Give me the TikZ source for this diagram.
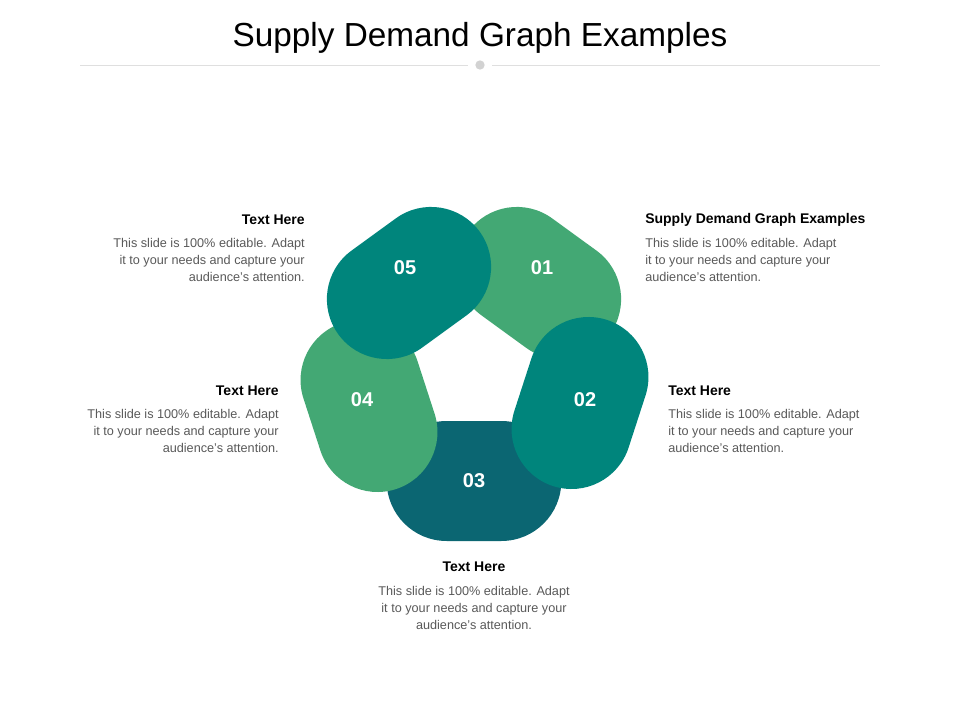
\documentclass[tikz,border=0pt]{standalone}
\usepackage{fontspec}
\setmainfont{Liberation Sans}
\begin{document}
\begin{tikzpicture}[x=0.75pt,y=-0.75pt]
\definecolor{cgreen}{HTML}{43A874}
\definecolor{cteal}{HTML}{00857C}
\definecolor{cdark}{HTML}{0B6672}
\definecolor{cgray}{HTML}{595959}
\tikzset{
 pill/.style={fill=#1,draw=none,minimum width=131pt,minimum height=90pt,rounded corners=45pt,inner sep=0pt},
 num/.style={text=white,font=\bfseries\fontsize{15}{18}\selectfont},
 head/.style={font=\bfseries\fontsize{10.5}{13}\selectfont,text=black,inner sep=0pt},
 body/.style={font=\fontsize{9.5}{12.8}\selectfont,text=cgray,inner sep=0pt},
}
\useasboundingbox (0,0) rectangle (960,720);
\node[font=\fontsize{25}{30}\selectfont] (title) at (480,38) {Supply Demand Graph Examples};
\draw[gray!25,line width=0.6pt] (80,65) -- (468,65);
\draw[gray!25,line width=0.6pt] (492,65) -- (880,65);
\node[circle,fill=gray!35,minimum size=7pt,inner sep=0pt] (dot) at (480,65) {};
% pills
\node[pill=cdark,rotate=0] (p3) at (474,481) {};
\node[pill=cgreen,rotate=144] (p1) at (539,283) {};
\node[pill=cgreen,rotate=108] (p4) at (369,406) {};
\node[pill=cteal,rotate=72] (p2) at (580,403) {};
\node[pill=cteal,rotate=36] (p5) at (409,283) {};
\node[num] at (542,268) {01};
\node[num] at (585,400) {02};
\node[num] at (474,481) {03};
\node[num] at (362,400) {04};
\node[num] at (405,268) {05};
% texts
\node[head,anchor=west] (h1) at (645,220) {Supply Demand Graph Examples};
\node[body,anchor=north west,align=left] (b1) at (645,238) {This slide is 100\% editable. Adapt\\it to your needs and capture your\\audience's attention.};
\node[head,anchor=west] (h2) at (668,391) {Text Here};
\node[body,anchor=north west,align=left] (b2) at (668,409) {This slide is 100\% editable. Adapt\\it to your needs and capture your\\audience's attention.};
\node[head,anchor=east] (h5) at (305,220) {Text Here};
\node[body,anchor=north east,align=right] (b5) at (305,238) {This slide is 100\% editable. Adapt\\it to your needs and capture your\\audience's attention.};
\node[head,anchor=east] (h4) at (279,391) {Text Here};
\node[body,anchor=north east,align=right] (b4) at (279,409) {This slide is 100\% editable. Adapt\\it to your needs and capture your\\audience's attention.};
\node[head] (h3) at (474,567) {Text Here};
\node[body,anchor=north,align=center] (b3) at (474,586) {This slide is 100\% editable. Adapt\\it to your needs and capture your\\audience's attention.};
\end{tikzpicture}
\end{document}
